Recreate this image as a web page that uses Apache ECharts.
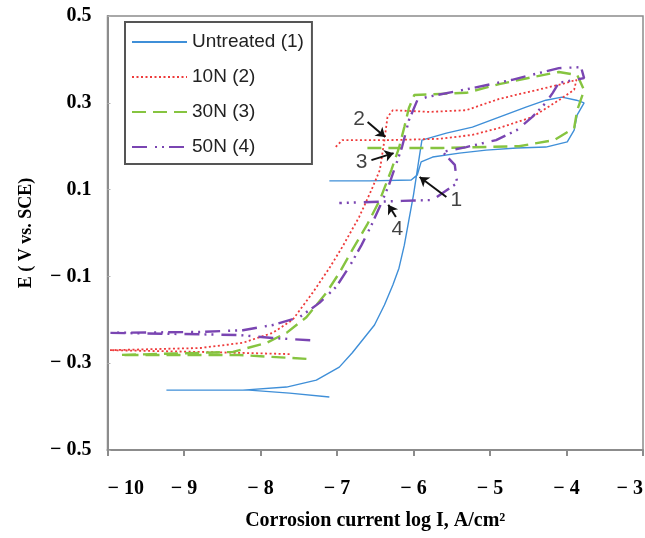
<!DOCTYPE html>
<html>
<head>
<meta charset="utf-8">
<script src="https://cdn.jsdelivr.net/npm/echarts@6/dist/echarts.min.js"></script>
<style>
  html, body { margin: 0; padding: 0; background: #fff; }
  #chart { width: 645px; height: 538px; }
</style>
</head>
<body>
<div id="chart"></div>
<script>
  // tick positions of the y axis (x axis uses -10..-3 step 1)
  var yTicks = [-0.5, -0.3, -0.1, 0.1, 0.3, 0.5]

  var seriesNames = ['Untreated (1)', '10N (2)', '30N (3)', '50N (4)']

  // [log I, E], in scan order
  var untreated = [[-7.10, -0.378], [-7.62, -0.369], [-8.15, -0.362], [-9.23, -0.362], [-8.23, -0.362], [-7.66, -0.355],
    [-7.27, -0.339], [-6.97, -0.309], [-6.80, -0.276], [-6.51, -0.212], [-6.38, -0.166], [-6.27, -0.120], [-6.19, -0.081],
    [-6.12, -0.028], [-6.06, 0.030], [-6.00, 0.088], [-5.96, 0.134], [-5.92, 0.180], [-5.89, 0.214], [-5.57, 0.230],
    [-5.23, 0.244], [-4.88, 0.267], [-4.53, 0.290], [-4.27, 0.306], [-4.06, 0.313], [-3.87, 0.306], [-3.77, 0.300],
    [-3.86, 0.272], [-3.90, 0.237], [-3.99, 0.210], [-4.27, 0.198], [-4.65, 0.196], [-5.05, 0.191], [-5.40, 0.184],
    [-5.75, 0.175], [-5.90, 0.164], [-5.95, 0.134], [-6.03, 0.122], [-6.57, 0.120], [-7.10, 0.120]]
  var n10 = [[-7.62, -0.279], [-8.79, -0.274], [-9.97, -0.270], [-8.79, -0.265], [-8.23, -0.253], [-7.84, -0.230],
    [-7.58, -0.200], [-7.32, -0.138], [-7.10, -0.081], [-6.93, -0.032], [-6.71, 0.037], [-6.55, 0.099], [-6.44, 0.145],
    [-6.38, 0.214], [-6.34, 0.267], [-6.27, 0.283], [-5.79, 0.279], [-5.31, 0.283], [-4.88, 0.309], [-4.45, 0.327],
    [-4.06, 0.343], [-3.87, 0.353], [-3.90, 0.330], [-4.10, 0.306], [-4.45, 0.267], [-4.88, 0.242], [-5.23, 0.226],
    [-5.66, 0.217], [-6.32, 0.214], [-6.93, 0.214], [-7.03, 0.196]]
  var n30 = [[-7.40, -0.290], [-8.28, -0.281], [-9.84, -0.281], [-8.36, -0.274], [-7.92, -0.253], [-7.66, -0.230],
    [-7.40, -0.194], [-7.14, -0.138], [-6.97, -0.092], [-6.80, -0.039], [-6.61, 0.018], [-6.44, 0.076], [-6.29, 0.145],
    [-6.19, 0.196], [-6.12, 0.244], [-6.06, 0.288], [-5.99, 0.318], [-5.31, 0.323], [-4.88, 0.343], [-4.45, 0.359],
    [-4.10, 0.371], [-3.86, 0.364], [-3.77, 0.329], [-3.86, 0.283], [-3.90, 0.242], [-4.16, 0.214], [-4.62, 0.200],
    [-5.62, 0.196], [-6.61, 0.196]]
  var n50 = [[-7.35, -0.247], [-7.84, -0.242], [-8.28, -0.235], [-9.97, -0.230], [-8.79, -0.228], [-8.23, -0.224],
    [-7.84, -0.212], [-7.49, -0.194], [-7.23, -0.161], [-7.01, -0.124], [-6.84, -0.078], [-6.68, -0.028], [-6.55, 0.018],
    [-6.43, 0.065], [-6.32, 0.111], [-6.23, 0.157], [-6.15, 0.198], [-6.06, 0.260], [-5.95, 0.306], [-5.83, 0.313],
    [-5.23, 0.334], [-4.71, 0.353], [-4.35, 0.369], [-4.10, 0.380], [-3.81, 0.382], [-3.77, 0.357], [-4.10, 0.346],
    [-4.18, 0.323], [-4.27, 0.300], [-4.45, 0.267], [-4.65, 0.237], [-4.92, 0.214], [-5.31, 0.198], [-5.62, 0.187],
    [-5.46, 0.157], [-5.43, 0.115], [-5.75, 0.076], [-6.15, 0.074], [-6.97, 0.069]]

  // curve numbers and their arrows: [x, y, text] and [x1, y1, x2, y2]
  var callouts = [[-5.44, 0.076, '1'], [-6.71, 0.263, '2'], [-6.68, 0.164, '3'], [-6.21, 0.009, '4']]
  var arrows = [[-5.57, 0.083, -5.92, 0.129], [-6.60, 0.256, -6.37, 0.221], [-6.55, 0.168, -6.26, 0.184], [-6.23, 0.037, -6.33, 0.065]]

  var serif = '"Liberation Serif", "Times New Roman", serif'
  var sans = '"Liberation Sans", Arial, sans-serif'

  var myChart = echarts.init(document.getElementById('chart'))

  function curve (name, data, color, width, dash) {
    return {
      name: name,
      type: 'line',
      data: data,
      symbol: 'none',
      lineStyle: { color: color, width: width, type: dash },
      itemStyle: { color: color },
      z: 2
    }
  }

  myChart.setOption({
    animation: false,
    grid: {
      left: 107.5,
      right: 2,
      top: 16,
      bottom: 88,
      outerBoundsMode: 'none',
      show: true,
      borderColor: '#8c8c8c',
      borderWidth: 1.5
    },
    legend: {
      data: seriesNames,
      orient: 'vertical',
      left: 125,
      top: 22,
      padding: [10, 8, 7, 6],
      itemGap: 15,
      itemWidth: 55,
      itemHeight: 14,
      itemStyle: { opacity: 0 },
      borderColor: '#555',
      borderWidth: 2,
      textStyle: { fontFamily: sans, fontSize: 19, lineHeight: 20, color: '#222' }
    },
    xAxis: {
      type: 'value',
      min: -10,
      max: -3,
      interval: 1,
      name: 'Corrosion current log I, A/cm²',
      nameLocation: 'middle',
      nameGap: 61,
      nameTextStyle: { fontFamily: serif, fontWeight: 'bold', fontSize: 20, color: '#000' },
      axisLine: { onZero: false, lineStyle: { color: '#8c8c8c', width: 2 } },
      axisTick: { length: 6, lineStyle: { color: '#8c8c8c', width: 2 } },
      axisLabel: {
        margin: 29,
        alignMinLabel: 'left',
        alignMaxLabel: 'right',
        fontFamily: serif,
        fontWeight: 'bold',
        fontSize: 20,
        color: '#000',
        formatter: function (v) { return v < 0 ? '\u2212 ' + Math.abs(v) : String(v) }
      },
      splitLine: { show: false }
    },
    yAxis: {
      type: 'value',
      min: -0.5,
      max: 0.5,
      name: 'E ( V vs. SCE)',
      nameLocation: 'middle',
      nameGap: 72,
      nameTextStyle: { fontFamily: serif, fontWeight: 'bold', fontSize: 18, color: '#000' },
      axisLine: { show: true, onZero: false, lineStyle: { color: '#8c8c8c', width: 2 } },
      axisTick: { show: true, customValues: yTicks, inside: true, length: 3, lineStyle: { color: '#b0b0b0' } },
      axisLabel: {
        customValues: yTicks,
        margin: 16,
        padding: [0, 0, 8, 0],
        fontFamily: serif,
        fontWeight: 'bold',
        fontSize: 20,
        color: '#000',
        formatter: function (v) { return v < 0 ? '\u2212 ' + Math.abs(v).toFixed(1) : v.toFixed(1) }
      },
      splitLine: { show: false }
    },
    series: [
      curve(seriesNames[0], untreated, '#3f8fd8', 1.4, 'solid'),
      curve(seriesNames[1], n10, '#ee3b3b', 1.8, [2, 2.5]),
      curve(seriesNames[2], n30, '#86c440', 2.4, [14, 7]),
      curve(seriesNames[3], n50, '#7a45b2', 2.4, [15, 8, 2, 5, 2, 5]),
      {
        type: 'lines',
        coordinateSystem: 'cartesian2d',
        symbol: ['none', 'arrow'],
        symbolSize: 9,
        silent: true,
        lineStyle: { color: '#111', width: 2, opacity: 1 },
        data: arrows.map(function (a) { return { coords: [[a[0], a[1]], [a[2], a[3]]] } }),
        z: 5
      },
      {
        type: 'scatter',
        symbolSize: 20,
        silent: true,
        itemStyle: { color: 'rgba(0,0,0,0)' },
        label: {
          show: true,
          position: 'inside',
          fontFamily: sans,
          fontSize: 21,
          color: '#111',
          formatter: function (p) { return p.data[2] }
        },
        data: callouts,
        z: 5
      }
    ]
  })
</script>
</body>
</html>
